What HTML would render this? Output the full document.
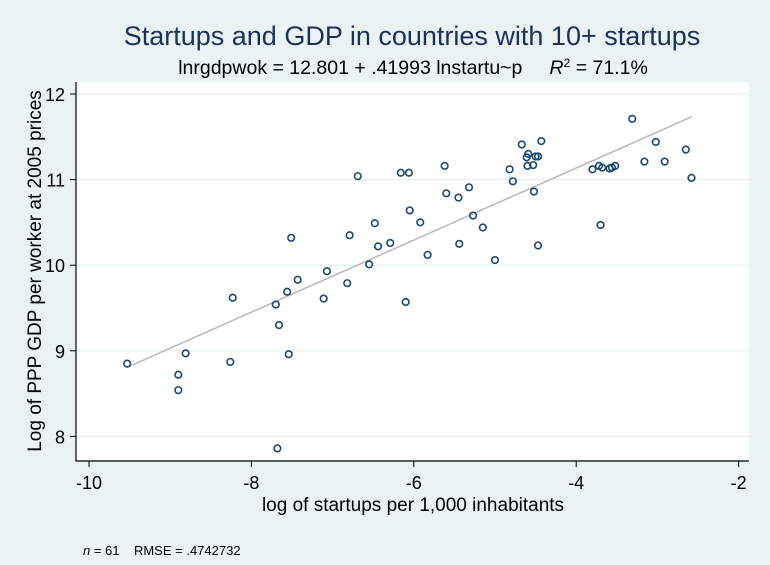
<!DOCTYPE html>
<html><head><meta charset="utf-8"><style>
body{margin:0;background:#eaf2f3;}
svg text{font-family:"Liberation Sans",Arial,sans-serif;}
</style></head><body>
<svg id="chart" width="770" height="560" xmlns="http://www.w3.org/2000/svg">
<rect x="0" y="0" width="770" height="560" fill="#eaf2f3"/>
<rect x="76" y="82" width="673" height="379" fill="#ffffff"/>
<text x="412" y="45" text-anchor="middle" font-size="27" fill="#1c3158">Startups and GDP in countries with 10+ startups</text>
<text x="413" y="74" text-anchor="middle" font-size="19.5" fill="#000">lnrgdpwok = 12.801 + .41993 lnstartu~p&#160;&#160;&#160;&#160;&#160;<tspan font-style="italic">R</tspan><tspan font-size="12" dy="-7">2</tspan><tspan dy="7"> = 71.1%</tspan></text>
<g id="grid"></g>
<g id="fit"></g>
<g id="pts"></g>
<g id="axes"></g>
<text transform="translate(41,271) rotate(-90)" text-anchor="middle" font-size="19" fill="#000">Log of PPP GDP per worker at 2005 prices</text>
<text x="413" y="511" text-anchor="middle" font-size="19" fill="#000">log of startups per 1,000 inhabitants</text>
<text x="83" y="555" font-size="13" fill="#000"><tspan font-style="italic">n</tspan> = 61&#160;&#160;&#160;&#160;RMSE = .4742732</text>
</svg>
<script>
const xs=[-9.53,-8.90,-8.90,-8.81,-8.26,-8.23,-7.70,-7.66,-7.56,-7.54,-7.51,-7.43,-7.68,-7.11,-7.07,-6.82,-6.79,-6.69,-6.55,-6.48,-6.44,-6.29,-6.16,-6.06,-6.05,-6.10,-5.92,-5.83,-5.62,-5.60,-5.45,-5.44,-5.32,-5.27,-5.15,-5.00,-4.82,-4.78,-4.67,-4.59,-4.61,-4.60,-4.53,-4.52,-4.50,-4.47,-4.47,-4.43,-3.80,-3.72,-3.68,-3.70,-3.59,-3.56,-3.52,-3.31,-3.16,-3.02,-2.91,-2.65,-2.58];
const ys=[8.85,8.72,8.54,8.97,8.87,9.62,9.54,9.30,9.69,8.96,10.32,9.83,7.86,9.61,9.93,9.79,10.35,11.04,10.01,10.49,10.22,10.26,11.08,11.08,10.64,9.57,10.50,10.12,11.16,10.84,10.79,10.25,10.91,10.58,10.44,10.06,11.12,10.98,11.41,11.30,11.26,11.16,11.17,10.86,11.27,11.27,10.23,11.45,11.12,11.16,11.14,10.47,11.13,11.14,11.16,11.71,11.21,11.44,11.21,11.35,11.02];
const xTicks=[-10,-8,-6,-4,-2];
const yTicks=[8,9,10,11,12];
const NS='http://www.w3.org/2000/svg';
const sx=v=>89+(v+10)*81.2;
const sy=v=>94+(12-v)*85.6;
function mk(tag,attrs,parent){const e=document.createElementNS(NS,tag);for(const k in attrs)e.setAttribute(k,attrs[k]);document.getElementById(parent).appendChild(e);return e;}
yTicks.forEach(t=>{
 const g=mk('line',{x1:76,x2:749,y1:sy(t),y2:sy(t),stroke:'#eaf2f3','stroke-width':1.5},'grid');
 
 
 const tk=mk('line',{x1:70,x2:76,y1:sy(t),y2:sy(t),stroke:'#000'},'axes');
 
 
 const lb=mk('text',{x:65,y:sy(t)+7,'text-anchor':'end','font-size':18},'axes');
 lb.textContent=t;
 
 
});
xTicks.forEach(t=>{
 const tk=mk('line',{x1:sx(t),x2:sx(t),y1:461,y2:467,stroke:'#000'},'axes');
 
 
 const lb=mk('text',{x:sx(t),y:489,'text-anchor':'middle','font-size':18},'axes');
 lb.textContent=t;
 
 
});
const ax=mk('path',{d:'M76,82 V461 H749',fill:'none',stroke:'#000','stroke-width':1.2},'axes');


const n=xs.length;let mx=0,my=0;for(let i=0;i<n;i++){mx+=xs[i];my+=ys[i];}mx/=n;my/=n;
let sxy=0,sxx=0;for(let i=0;i<n;i++){sxy+=(xs[i]-mx)*(ys[i]-my);sxx+=(xs[i]-mx)**2;}
const b=sxy/sxx,a=my-b*mx;const x0=Math.min(...xs),x1=Math.max(...xs);
const fl=mk('line',{x1:sx(x0),y1:sy(a+b*x0),x2:sx(x1),y2:sy(a+b*x1),stroke:'#b8b8b8','stroke-width':1.5},'fit');


for(let i=0;i<n;i++){
 const c=mk('circle',{cx:sx(xs[i]),cy:sy(ys[i]),r:3.3,fill:'none',stroke:'#1a476f','stroke-width':1.6},'pts');
 
 
}
</script>
</body></html>
